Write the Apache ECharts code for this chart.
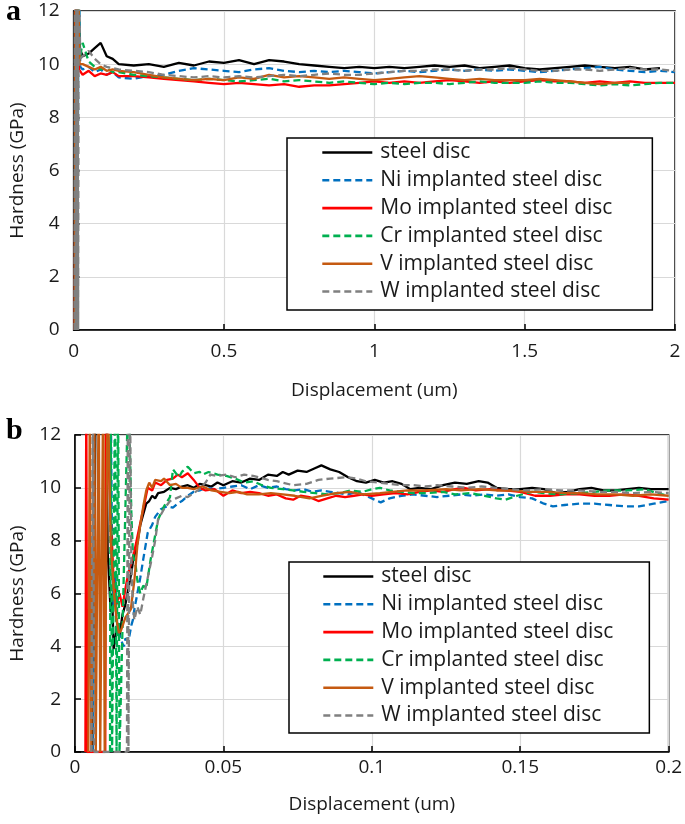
<!DOCTYPE html>
<html>
<head>
<meta charset="utf-8">
<script src="https://cdn.jsdelivr.net/npm/echarts@6/dist/echarts.min.js"></script>
<style>
  html, body { margin: 0; padding: 0; background: #fff; }
  #chart { width: 685px; height: 824px; }
</style>
</head>
<body>
<div id="chart"></div>
<script>
const seriesNames = ['steel disc', 'Ni implanted steel disc', 'Mo implanted steel disc',
  'Cr implanted steel disc', 'V implanted steel disc', 'W implanted steel disc'];

// ---- panel a : 0 - 2 um ----
const xTicksA = [0, 0.5, 1, 1.5, 2];
const xA = [0.03, 0.05, 0.07, 0.09, 0.11, 0.13, 0.15,
  0.2, 0.25, 0.3, 0.35, 0.4, 0.45, 0.5, 0.55, 0.6, 0.65,
  0.7, 0.75, 0.8, 0.85, 0.9, 0.95, 1.0, 1.05, 1.1, 1.15,
  1.2, 1.25, 1.3, 1.35, 1.4, 1.45, 1.5, 1.55, 1.6, 1.65,
  1.7, 1.75, 1.8, 1.85, 1.9, 1.95, 2.0];

const steelA = [10.3, 10.4, 10.6, 10.8, 10.3, 10.2, 10.0,
  9.95, 10.0, 9.9, 10.05, 9.95, 10.1, 10.05, 10.15, 10.0, 10.15,
  10.1, 10.0, 9.95, 9.9, 9.85, 9.9, 9.85, 9.9, 9.85, 9.9,
  9.95, 9.9, 9.95, 9.85, 9.9, 9.95, 9.85, 9.8, 9.85, 9.9,
  9.95, 9.9, 9.85, 9.9, 9.8, 9.85, null];
const niA = [9.8, 9.9, 9.7, 9.8, 9.6, 9.7, 9.5,
  9.45, 9.55, 9.6, 9.75, 9.85, 9.8, 9.75, 9.7, 9.8, 9.85,
  9.75, 9.7, 9.75, 9.7, 9.75, 9.7, 9.65, 9.7, 9.75, 9.7,
  9.75, 9.8, 9.75, 9.8, 9.75, 9.8, 9.75, 9.7, 9.75, 9.8,
  9.85, 9.9, 9.8, 9.75, 9.7, 9.75, 9.7];
const moA = [9.6, 9.75, 9.55, 9.65, 9.6, 9.7, 9.55,
  9.55, 9.5, 9.45, 9.4, 9.35, 9.3, 9.25, 9.3, 9.25, 9.2,
  9.25, 9.15, 9.2, 9.2, 9.25, 9.3, 9.35, 9.3, 9.35, 9.3,
  9.35, 9.4, 9.35, 9.3, 9.35, 9.3, 9.35, 9.4, 9.35, 9.35,
  9.3, 9.35, 9.3, 9.35, 9.3, 9.3, 9.3];
const crA = [10.8, 10.1, 9.9, 9.8, 9.85, 9.7, 9.7,
  9.6, 9.55, 9.5, 9.45, 9.4, 9.45, 9.4, 9.35, 9.4, 9.45,
  9.35, 9.4, 9.35, 9.3, 9.35, 9.3, 9.25, 9.3, 9.25, 9.3,
  9.3, 9.25, 9.3, 9.35, 9.3, 9.3, 9.3, 9.35, 9.3, 9.3,
  9.25, 9.2, 9.25, 9.2, 9.25, 9.3, 9.3];
const vA = [10.0, 9.9, 9.8, 9.9, 9.75, 9.8, 9.75,
  9.7, 9.6, 9.5, 9.45, 9.4, 9.45, 9.4, 9.5, 9.45, 9.6,
  9.5, 9.55, 9.5, 9.45, 9.5, 9.45, 9.4, 9.45, 9.5, 9.55,
  9.5, 9.45, 9.4, 9.45, 9.4, 9.4, 9.4, 9.45, 9.4, 9.35,
  9.3, 9.25, 9.3, 9.3, null, null, null];
const wA = [10.3, 10.5, 10.2, 10.0, 9.9, 9.85, 9.8,
  9.75, 9.7, 9.6, 9.55, 9.5, 9.55, 9.5, 9.55, 9.5, 9.55,
  9.6, 9.55, 9.6, 9.65, 9.6, 9.6, 9.65, 9.7, 9.75, 9.75,
  9.8, 9.8, 9.75, 9.8, 9.8, 9.85, 9.8, 9.75, 9.75, 9.8,
  9.8, 9.75, 9.8, 9.85, 9.8, 9.8, 9.75];

// loading spikes at the start of panel a
const steelSpikeA = [[0.005, 0], [0.008, 14], [0.014, 14], [0.02, 10.6]];
const niSpikeA = [[0.006, 0], [0.009, 14], [0.013, 4.4], [0.017, 14], [0.022, 9.9]];
const moSpikeA = [[0.004, 0], [0.007, 14], [0.012, 14], [0.018, 9.8]];
const crSpikeA = [[0.007, 0], [0.01, 14], [0.012, 0], [0.015, 14], [0.02, 10.2]];
const vSpikeA = [[0.004, 0], [0.006, 14], [0.008, 0], [0.01, 14], [0.012, 0], [0.014, 14], [0.02, 10.0]];
const wSpikeA = [[0.003, 0], [0.005, 14], [0.007, 0], [0.009, 14], [0.011, 0], [0.013, 14],
  [0.015, 0], [0.017, 14], [0.022, 10.2]];

// ---- panel b : 0 - 0.2 um ----
const xTicksB = [0, 0.05, 0.1, 0.15, 0.2];
const steelB = [[0.006, 0], [0.007, 14], [0.0105, 14], [0.011, 7.6], [0.0115, 6.5], [0.012, 5.3],
  [0.0125, 6.0], [0.013, 3.9], [0.014, 4.6], [0.015, 4.4], [0.016, 5.2], [0.017, 5.6], [0.018, 6.2],
  [0.019, 6.8], [0.0195, 7.2], [0.021, 7.9], [0.022, 8.6], [0.023, 9.0], [0.024, 9.4], [0.025, 9.5],
  [0.026, 9.7], [0.027, 9.6], [0.028, 9.8], [0.03, 9.85], [0.032, 10.0], [0.034, 9.95], [0.036, 10.05],
  [0.038, 10.1], [0.04, 10.0], [0.042, 10.15], [0.044, 10.1], [0.046, 10.05], [0.048, 10.2], [0.05, 10.1],
  [0.053, 10.25], [0.056, 10.2], [0.059, 10.35], [0.062, 10.3], [0.065, 10.5], [0.068, 10.45], [0.07, 10.6],
  [0.072, 10.5], [0.075, 10.65], [0.078, 10.6], [0.081, 10.75], [0.083, 10.85], [0.086, 10.7], [0.089, 10.6],
  [0.092, 10.4], [0.095, 10.25], [0.098, 10.2], [0.101, 10.3], [0.104, 10.2], [0.107, 10.25], [0.11, 10.15],
  [0.113, 9.95], [0.116, 10.0], [0.12, 9.95], [0.124, 10.1], [0.128, 10.2], [0.132, 10.15], [0.136, 10.25],
  [0.139, 10.2], [0.142, 10.0], [0.146, 9.95], [0.15, 9.95], [0.154, 10.0], [0.158, 9.95], [0.162, 9.8],
  [0.166, 9.85], [0.17, 9.95], [0.174, 10.0], [0.178, 9.9], [0.182, 9.9], [0.186, 9.95], [0.19, 10.0],
  [0.194, 9.95], [0.2, 9.95]];
const niB = [[0.006, 0], [0.0065, 14], [0.012, 14], [0.0125, 7.4], [0.013, 5.5], [0.0135, 6.8], [0.014, 5.0],
  [0.015, 4.4], [0.016, 4.1], [0.0165, 4.0], [0.017, 4.3], [0.018, 4.2], [0.019, 4.8], [0.0195, 5.0],
  [0.02, 5.4], [0.021, 6.0], [0.022, 6.6], [0.023, 7.3], [0.0245, 8.3], [0.026, 8.6], [0.027, 8.9],
  [0.029, 9.2], [0.031, 9.3], [0.033, 9.25], [0.0346, 9.4], [0.036, 9.5], [0.038, 9.7], [0.04, 9.85],
  [0.042, 9.9], [0.044, 10.0], [0.047, 9.95], [0.05, 10.0], [0.053, 10.05], [0.056, 10.1], [0.059, 9.95],
  [0.062, 10.1], [0.065, 10.0], [0.068, 10.05], [0.071, 9.95], [0.074, 9.9], [0.077, 9.95], [0.08, 9.85],
  [0.083, 9.9], [0.086, 9.85], [0.089, 9.8], [0.092, 9.75], [0.095, 9.85], [0.098, 9.7], [0.1, 9.6],
  [0.103, 9.45], [0.106, 9.6], [0.11, 9.7], [0.114, 9.75], [0.118, 9.7], [0.122, 9.65], [0.126, 9.7],
  [0.13, 9.75], [0.134, 9.7], [0.138, 9.75], [0.142, 9.7], [0.146, 9.75], [0.15, 9.65], [0.154, 9.6],
  [0.158, 9.4], [0.161, 9.3], [0.165, 9.35], [0.17, 9.4], [0.175, 9.4], [0.18, 9.35], [0.185, 9.3],
  [0.19, 9.3], [0.195, 9.4], [0.2, 9.5]];
const moB = [[0.0035, 0], [0.0038, 14], [0.0041, 0], [0.0102, 0], [0.0104, 14], [0.0106, 14], [0.012, 9.0],
  [0.013, 6.5], [0.014, 5.6], [0.015, 6.0], [0.016, 5.5], [0.017, 6.2], [0.018, 6.8], [0.019, 7.2],
  [0.02, 7.6], [0.0215, 8.4], [0.023, 9.2], [0.0245, 10.0], [0.026, 9.9], [0.027, 10.2], [0.029, 10.1],
  [0.031, 10.3], [0.033, 10.35], [0.0346, 10.5], [0.036, 10.4], [0.038, 10.55], [0.04, 10.3], [0.042, 10.0],
  [0.044, 9.9], [0.047, 9.95], [0.05, 9.7], [0.053, 9.9], [0.056, 9.8], [0.059, 9.85], [0.062, 9.8],
  [0.065, 9.7], [0.068, 9.75], [0.071, 9.6], [0.0735, 9.55], [0.076, 9.7], [0.079, 9.65], [0.082, 9.5],
  [0.085, 9.6], [0.088, 9.7], [0.091, 9.65], [0.094, 9.7], [0.097, 9.75], [0.1, 9.7], [0.104, 9.75],
  [0.108, 9.8], [0.112, 9.75], [0.116, 9.85], [0.12, 9.9], [0.124, 9.85], [0.128, 9.95], [0.131, 10.0],
  [0.135, 9.9], [0.14, 9.95], [0.145, 9.9], [0.15, 9.85], [0.155, 9.7], [0.16, 9.7], [0.165, 9.75],
  [0.17, 9.75], [0.175, 9.7], [0.18, 9.7], [0.185, 9.75], [0.19, 9.7], [0.195, 9.6], [0.2, 9.55]];
const crB = [[0.0118, 0], [0.012, 14], [0.0125, 0], [0.0135, 14], [0.014, 0], [0.0145, 14], [0.015, 0],
  [0.018, 14], [0.019, 9.0], [0.0195, 7.5], [0.0205, 7.0], [0.021, 6.5], [0.022, 6.0], [0.023, 6.3],
  [0.024, 6.2], [0.0255, 7.3], [0.027, 8.2], [0.028, 8.8], [0.03, 9.3], [0.032, 9.65], [0.033, 10.7],
  [0.035, 10.4], [0.036, 10.6], [0.038, 10.8], [0.04, 10.55], [0.042, 10.6], [0.043, 10.5], [0.045, 10.6],
  [0.048, 10.5], [0.051, 10.45], [0.054, 10.35], [0.057, 10.2], [0.06, 10.25], [0.063, 10.1], [0.066, 10.0],
  [0.07, 9.95], [0.0735, 9.9], [0.077, 9.85], [0.081, 9.8], [0.085, 9.75], [0.089, 9.8], [0.093, 9.9],
  [0.097, 9.85], [0.1, 9.95], [0.1027, 10.0], [0.106, 9.9], [0.11, 9.85], [0.114, 9.8], [0.119, 9.8],
  [0.124, 9.85], [0.128, 9.75], [0.133, 9.8], [0.138, 9.7], [0.142, 9.6], [0.145, 9.55], [0.149, 9.7],
  [0.154, 9.85], [0.158, 9.8], [0.163, 9.75], [0.17, 9.8], [0.175, 9.85], [0.18, 9.9], [0.186, 9.9],
  [0.192, 9.95], [0.196, 9.8], [0.2, 9.7]];
const vB = [[0.0045, 0], [0.005, 14], [0.0055, 0], [0.0065, 14], [0.007, 0], [0.008, 14], [0.0085, 0],
  [0.0095, 14], [0.01, 0], [0.011, 14], [0.012, 8.0], [0.013, 6.2], [0.014, 5.0], [0.0148, 4.5],
  [0.0155, 4.6], [0.017, 5.1], [0.0188, 5.4], [0.02, 6.5], [0.021, 7.8], [0.022, 8.6], [0.023, 9.3],
  [0.024, 9.9], [0.025, 10.2], [0.026, 10.0], [0.027, 10.3], [0.029, 10.25], [0.03, 10.35], [0.032, 10.1],
  [0.034, 10.15], [0.036, 10.0], [0.038, 10.0], [0.04, 9.95], [0.043, 10.05], [0.046, 9.9], [0.049, 9.85],
  [0.052, 9.8], [0.055, 9.85], [0.058, 9.75], [0.062, 9.75], [0.066, 9.8], [0.07, 9.75], [0.074, 9.7],
  [0.079, 9.6], [0.083, 9.7], [0.088, 9.8], [0.0926, 9.85], [0.097, 9.75], [0.1027, 9.8], [0.107, 9.85],
  [0.112, 9.9], [0.118, 9.9], [0.125, 9.95], [0.13, 9.9], [0.136, 9.95], [0.142, 9.9], [0.147, 9.9],
  [0.153, 9.85], [0.159, 9.85], [0.165, 9.8], [0.17, 9.8], [0.176, 9.75], [0.182, 9.75], [0.188, 9.7],
  [0.194, 9.75], [0.2, 9.7]];
const wB = [[0.0055, 0], [0.006, 14], [0.0065, 0], [0.0175, 0], [0.0178, 14], [0.018, 0], [0.0185, 14],
  [0.019, 7.0], [0.0195, 5.6], [0.02, 5.0], [0.021, 5.5], [0.022, 5.2], [0.023, 5.8], [0.0245, 6.6],
  [0.026, 7.4], [0.027, 8.0], [0.028, 8.8], [0.03, 9.2], [0.032, 9.5], [0.034, 9.6], [0.036, 9.7],
  [0.038, 9.65], [0.04, 9.8], [0.042, 9.95], [0.044, 10.2], [0.0456, 10.5], [0.048, 10.45], [0.051, 10.5],
  [0.054, 10.4], [0.057, 10.5], [0.06, 10.45], [0.062, 10.4], [0.065, 10.3], [0.068, 10.25], [0.0735, 10.1],
  [0.078, 10.15], [0.082, 10.3], [0.086, 10.35], [0.0916, 10.4], [0.095, 10.35], [0.098, 10.25], [0.102, 10.2],
  [0.106, 10.15], [0.11, 10.1], [0.114, 10.1], [0.118, 10.05], [0.122, 10.1], [0.127, 10.05], [0.132, 10.0],
  [0.137, 10.05], [0.142, 10.0], [0.147, 9.95], [0.152, 9.9], [0.158, 9.95], [0.164, 9.9], [0.17, 9.9],
  [0.176, 9.85], [0.182, 9.85], [0.188, 9.8], [0.194, 9.85], [0.2, 9.8]];

const colors = ['#000000', '#0070C0', '#FF0000', '#00B050', '#C55A11', '#808080'];
const dashed = [false, true, false, true, false, true];

const FONT = '"Open Sans", sans-serif';
const textColor = '#1a1a1a';

const pairUp = (spike, ys) => spike.concat(xA.map((x, i) => [x, ys[i]]));
const dataA = [
  pairUp(steelSpikeA, steelA), pairUp(niSpikeA, niA), pairUp(moSpikeA, moA),
  pairUp(crSpikeA, crA), pairUp(vSpikeA, vA), pairUp(wSpikeA, wA)
];
const dataB = [steelB, niB, moB, crB, vB, wB];

const chart = echarts.init(document.getElementById('chart'), null, { renderer: 'canvas' });

const makeX = (gi, ticks, gap) => ({
  type: 'value', gridIndex: gi,
  min: ticks[0], max: ticks[ticks.length - 1], interval: ticks[1] - ticks[0],
  name: 'Displacement (um)', nameLocation: 'middle', nameGap: gap,
  nameTextStyle: { fontFamily: FONT, fontSize: 19, color: textColor },
  axisLine: { lineStyle: { color: '#000', width: 1.5 } },
  axisTick: { show: true, inside: true, length: 6, lineStyle: { color: '#000', width: 1.5 } },
  axisLabel: { fontFamily: FONT, fontSize: 19, color: textColor, margin: gi === 0 ? 12 : 6 },
  splitLine: { show: true, lineStyle: { color: '#d9d9d9', width: 1.2 } }
});
const makeY = (gi, gap) => ({
  type: 'value', gridIndex: gi, min: 0, max: 12, interval: 2,
  name: 'Hardness (GPa)', nameLocation: 'middle', nameGap: gap,
  nameTextStyle: { fontFamily: FONT, fontSize: 19, color: textColor },
  axisLine: { show: true, lineStyle: { color: '#000', width: 1.5 } },
  axisTick: { show: true, inside: true, length: 6, lineStyle: { color: '#000', width: 1.5 } },
  axisLabel: { fontFamily: FONT, fontSize: 19, color: textColor, margin: 14 },
  splitLine: { show: true, lineStyle: { color: '#d9d9d9', width: 1.2 } }
});

const makeSeries = (gi, data) => data.map((d, i) => ({
  name: seriesNames[i], type: 'line', xAxisIndex: gi, yAxisIndex: gi,
  data: d, symbol: 'none', clip: true, connectNulls: false,
  lineStyle: { color: colors[i], width: 2.3, type: dashed[i] ? [7, 4] : 'solid' },
  itemStyle: { color: colors[i] }
}));

const legendCommon = {
  orient: 'vertical', itemWidth: 50, itemHeight: 14, itemGap: 6.8,
  borderColor: '#000', borderWidth: 1.5, backgroundColor: '#fff',
  itemStyle: { opacity: 0 },
  lineStyle: { width: 2.6 },
  textStyle: { fontFamily: FONT, fontSize: 21, color: textColor, lineHeight: 20, padding: [0, 0, 0, 3] },
  data: seriesNames, selectedMode: false
};

chart.setOption({
  animation: false,
  backgroundColor: '#fff',
  grid: [
    { left: 70, top: 11, width: 605, height: 319, show: true, borderColor: '#000', borderWidth: 1.5, backgroundColor: 'transparent' },
    { left: 74, top: 435, width: 596, height: 317, show: true, borderColor: '#000', borderWidth: 1.5, backgroundColor: 'transparent' }
  ],
  xAxis: [makeX(0, xTicksA, 51), makeX(1, xTicksB, 43)],
  yAxis: [makeY(0, 45), makeY(1, 48)],
  legend: [
    Object.assign({ left: 287, top: 138, padding: [4, 40, 8, 34] }, legendCommon),
    Object.assign({ left: 289, top: 562, padding: [4, 36, 7, 33] }, legendCommon)
  ],
  graphic: [
    { type: 'text', x: 6, y: 27, style: { text: 'a', font: 'bold 30px "Liberation Serif", serif', fill: '#000', verticalAlign: 'bottom' } },
    { type: 'text', x: 6, y: 446, style: { text: 'b', font: 'bold 30px "Liberation Serif", serif', fill: '#000', verticalAlign: 'bottom' } }
  ],
  series: makeSeries(0, dataA).concat(makeSeries(1, dataB))
});
</script>
</body>
</html>
